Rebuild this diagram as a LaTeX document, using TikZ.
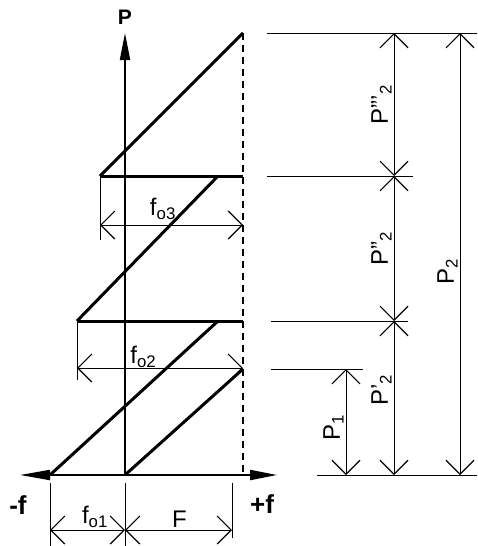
\documentclass[tikz,border=0pt]{standalone}
\usepackage{fontspec}
\setmainfont{Liberation Sans}
\usetikzlibrary{arrows.meta}

\begin{document}
\begin{tikzpicture}[x=1pt,y=-1pt,font=\fontsize{24}{28}\selectfont,>=Latex,
  heavy/.style={line width=3pt},
  axisline/.style={line width=2pt},
  ext/.style={line width=1pt},
  barb/.tip={Straight Barb[length=14pt,width=28pt,line width=1.2pt]},
  dim/.style={line width=1pt,barb-barb},
  lab/.style={inner sep=2pt},
  sign/.style={font=\fontsize{26}{30}\selectfont\bfseries}]
\useasboundingbox (0,0) rectangle (477,546);
% axes
\coordinate (O)  at (125,475);
\coordinate (Pt) at (125,33);
\coordinate (Lt) at (20,475);
\coordinate (Rt) at (277,475);
\draw[axisline,-{Triangle[length=27pt,width=10pt]}] (O) -- (Pt);
\draw[axisline,{Triangle[length=30pt,width=10pt]}-{Triangle[length=27pt,width=10pt]}] (Lt) -- (Rt);
\node[font=\fontsize{21}{24}\selectfont\bfseries] (Plab) at (125,17) {P};
\node[sign] (mf) at (18,505) {-f};
\node[sign] (pf) at (262,504) {+f};
% dashed limit
\coordinate (D1) at (243,33);
\coordinate (D0) at (243,475);
\draw[axisline,dash pattern=on 7pt off 5pt] (D1) -- (D0);
% steps
\coordinate (a0) at (50,475);
\coordinate (a1) at (243,369);
\coordinate (b0) at (77,321);
\coordinate (b1) at (218,321);
\coordinate (b2) at (243,321);
\coordinate (c0) at (100,176);
\coordinate (c1) at (218,176);
\coordinate (c2) at (243,176);
\draw[heavy] (O) -- (a1);
\draw[heavy] (a0) -- (b1);
\draw[heavy] (b0) -- (b2);
\draw[heavy] (b0) -- (c1);
\draw[heavy] (c0) -- (c2);
\draw[heavy] (c0) -- (D1);
% left dimensions
\coordinate (e3) at (100,240);
\coordinate (e2) at (77,380);
\draw[ext] (c0) -- (e3);
\draw[ext] (b0) -- (e2);
\coordinate (f3a) at (100,225);
\coordinate (f3b) at (243,225);
\coordinate (f2a) at (77,368);
\coordinate (f2b) at (243,368);
\draw[dim] (f3a) -- node[lab,above=5pt,pos=0.44,inner sep=0pt] (fo3) {f\textsubscript{o3}} (f3b);
\draw[dim] (f2a) -- node[lab,above,pos=0.4,inner sep=0pt] (fo2) {f\textsubscript{o2}} (f2b);
% bottom dimensions
\coordinate (g1) at (50,483);  \coordinate (g1e) at (50,546);
\coordinate (g2) at (125,483); \coordinate (g2e) at (125,546);
\coordinate (g3) at (232,483); \coordinate (g3e) at (232,538);
\draw[ext] (g1) -- (g1e);
\draw[ext] (g2) -- (g2e);
\draw[ext] (g3) -- (g3e);
\coordinate (k1) at (50,530);
\coordinate (k2) at (125,530);
\coordinate (k3) at (232,530);
\draw[dim] (k1) -- node[lab,above,pos=0.6] (fo1) {f\textsubscript{o1}} (k2);
\draw[dim] (k2) -- node[lab,above,pos=0.51] (Flab) {F} (k3);
% right dimensions
\coordinate (h1a) at (267,33);  \coordinate (h1b) at (477,33);
\coordinate (h2a) at (267,176); \coordinate (h2b) at (413,176);
\coordinate (h3a) at (271,321); \coordinate (h3b) at (408,321);
\coordinate (h4a) at (271,369); \coordinate (h4b) at (363,369);
\coordinate (h5a) at (317,475); \coordinate (h5b) at (477,475);
\foreach \i in {1,...,5} \draw[ext] (h\i a) -- (h\i b);
\coordinate (u1) at (394,33);
\coordinate (u2) at (394,176);
\coordinate (u3) at (394,321);
\coordinate (u4) at (394,475);
\coordinate (v1) at (346,369);
\coordinate (v2) at (346,475);
\coordinate (w1) at (460,33);
\coordinate (w2) at (460,475);
\draw[dim] (u1) -- node[lab,rotate=90,anchor=south,pos=0.5] (p3) {P'''\textsubscript{2}} (u2);
\draw[dim] (u2) -- node[lab,rotate=90,anchor=south,pos=0.5] (p2) {P''\textsubscript{2}} (u3);
\draw[dim] (u3) -- node[lab,rotate=90,anchor=south,pos=0.45] (p1) {P'\textsubscript{2}} (u4);
\draw[dim] (v1) -- node[lab,rotate=90,anchor=south,pos=0.55] (q1) {P\textsubscript{1}} (v2);
\draw[dim] (w1) -- node[lab,rotate=90,anchor=south,pos=0.54] (q2) {P\textsubscript{2}} (w2);
\end{tikzpicture}
\end{document}
